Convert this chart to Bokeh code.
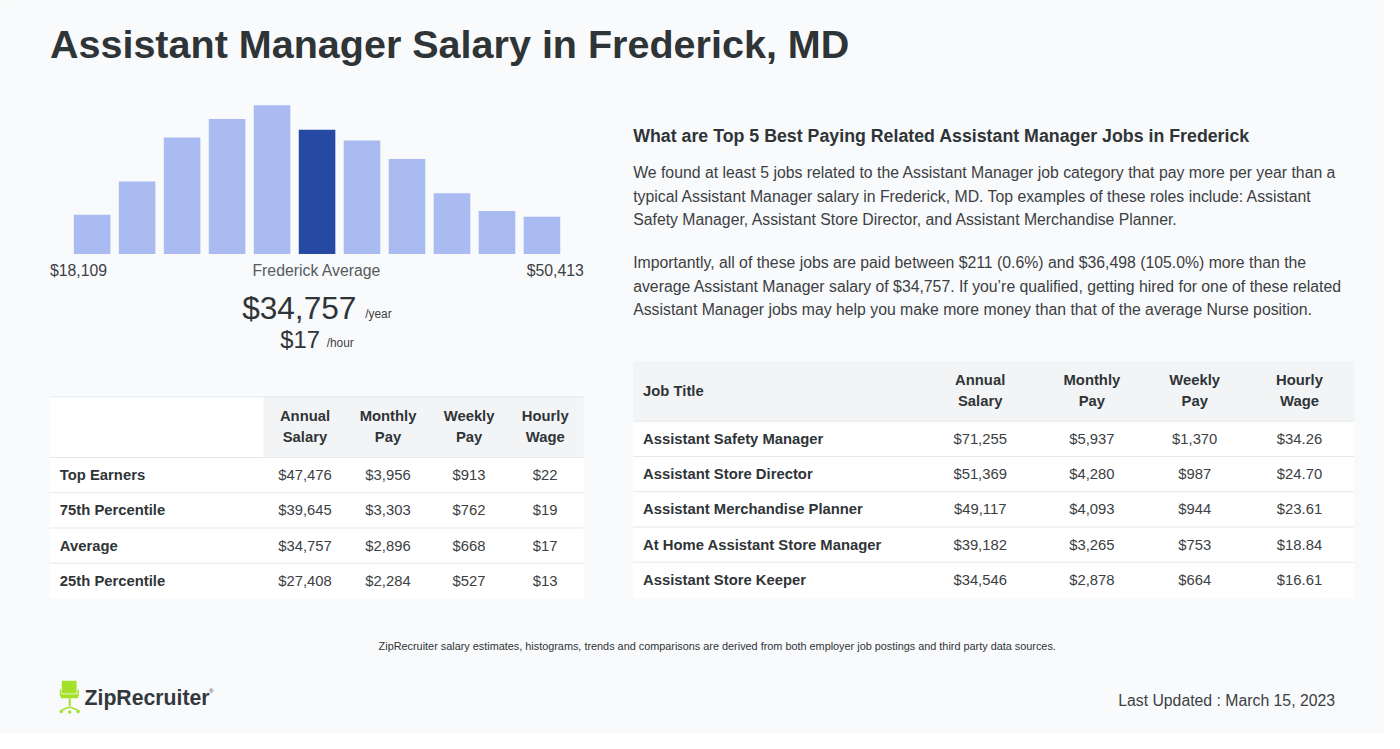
from bokeh.plotting import figure
from bokeh.models import Range1d
from bokeh.core.properties import value
from bokeh.embed import file_html
from bokeh.resources import INLINE

# ---------------- data ----------------
title = "Assistant Manager Salary in Frederick, MD"
hist_counts = [40, 74, 119, 138, 152, 127, 116, 97, 62, 44, 38]
avg_bin = 5
range_low = "$18,109"
range_high = "$50,413"
avg_label = "Frederick Average"
avg_annual = "$34,757"
avg_hourly = "$17"

pct_labels = ["Top Earners", "75th Percentile", "Average", "25th Percentile"]
pct_annual = ["$47,476", "$39,645", "$34,757", "$27,408"]
pct_monthly = ["$3,956", "$3,303", "$2,896", "$2,284"]
pct_weekly = ["$913", "$762", "$668", "$527"]
pct_hourly = ["$22", "$19", "$17", "$13"]
col_heads_1 = ["Annual", "Monthly", "Weekly", "Hourly"]
col_heads_2 = ["Salary", "Pay", "Pay", "Wage"]

jobs = ["Assistant Safety Manager", "Assistant Store Director", "Assistant Merchandise Planner",
        "At Home Assistant Store Manager", "Assistant Store Keeper"]
job_annual = ["$71,255", "$51,369", "$49,117", "$39,182", "$34,546"]
job_monthly = ["$5,937", "$4,280", "$4,093", "$3,265", "$2,878"]
job_weekly = ["$1,370", "$987", "$944", "$753", "$664"]
job_hourly = ["$34.26", "$24.70", "$23.61", "$18.84", "$16.61"]

heading = "What are Top 5 Best Paying Related Assistant Manager Jobs in Frederick"
para1 = ["We found at least 5 jobs related to the Assistant Manager job category that pay more per year than a",
         "typical Assistant Manager salary in Frederick, MD. Top examples of these roles include: Assistant",
         "Safety Manager, Assistant Store Director, and Assistant Merchandise Planner."]
para2 = ["Importantly, all of these jobs are paid between $211 (0.6%) and $36,498 (105.0%) more than the",
         "average Assistant Manager salary of $34,757. If you\u2019re qualified, getting hired for one of these related",
         "Assistant Manager jobs may help you make more money than that of the average Nurse position."]
footnote = "ZipRecruiter salary estimates, histograms, trends and comparisons are derived from both employer job postings and third party data sources."
updated = "Last Updated : March 15, 2023"
brand = "ZipRecruiter"

# ---------------- styles ----------------
FONT = "Liberation Sans"
BG = "#f9fafc"
DARK = "#2f3437"
BODY = "#3c4043"
LINE = "#e6e8eb"
HEAD_BG = "#f3f4f6"
BAR_LIGHT = "#a9bbf0"
BAR_DARK = "#264aa4"
FS = 0.988  # font scale so that the full 1400x749 canvas fits the 1384x733 frame

p = figure(width=1384, height=733, x_range=Range1d(0, 1400), y_range=Range1d(749, 0),
           x_axis_type=None, y_axis_type=None, toolbar_location=None, output_backend="svg",
           min_border=0, background_fill_color=BG, border_fill_color=BG, outline_line_color=None)
p.grid.visible = False


def txt(x, y, s, size, color=BODY, style="normal", align="left", baseline="middle"):
    if not isinstance(s, list):
        s = [s]
    if not isinstance(x, list):
        x = [x] * len(s)
    if not isinstance(y, list):
        y = [y] * len(s)
    p.text(x=x, y=y, text=s, text_font=value(FONT), text_font_size=f"{size * FS:.2f}px",
           text_color=color, text_font_style=style, text_align=align, text_baseline=baseline)


# title
txt(50, 44, title, 40, DARK, "bold")

# ---------------- histogram ----------------
p.extra_x_ranges = {"bins": Range1d(-2.037, 28.73)}
p.extra_y_ranges = {"count": Range1d(-490, 259)}
bar_colors = [BAR_DARK if i == avg_bin else BAR_LIGHT for i in range(len(hist_counts))]
p.vbar(x=list(range(len(hist_counts))), top=hist_counts, bottom=0, width=0.813,
       fill_color=bar_colors, line_color=None, x_range_name="bins", y_range_name="count")

txt(50, 276, range_low, 16, BODY)
txt(320, 276, avg_label, 16, "#555a5e", align="center")
txt(590, 276, range_high, 16, BODY, align="right")
txt(360, 314, avg_annual, 32, DARK, align="right")
txt(369, 320, "/year", 12, BODY)
txt(323, 347, avg_hourly, 24, DARK, align="right")
txt(330, 350, "/hour", 12, BODY)

# ---------------- left table ----------------
lt_x0, lt_x1, lt_split = 50, 590, 266
lt_head_top, lt_head_bot, lt_row_h = 405, 467, 36
n_l = len(pct_labels)
p.quad(left=[lt_x0], right=[lt_x1], top=[lt_head_top], bottom=[lt_head_bot + n_l * lt_row_h],
       fill_color="white", line_color=None)
p.quad(left=[lt_split], right=[lt_x1], top=[lt_head_top], bottom=[lt_head_bot],
       fill_color=HEAD_BG, line_color=None)
lt_lines = [lt_head_top] + [lt_head_bot + i * lt_row_h for i in range(n_l)]
p.segment(x0=[lt_x0] * len(lt_lines), x1=[lt_x1] * len(lt_lines), y0=lt_lines, y1=lt_lines,
          line_color=LINE, line_width=1)
lt_cols = [308, 392, 474, 551]
txt(lt_cols, 425, col_heads_1, 15, DARK, "bold", "center")
txt(lt_cols, 446, col_heads_2, 15, DARK, "bold", "center")
rows_y = [lt_head_bot + (i + 0.5) * lt_row_h for i in range(n_l)]
txt(60, rows_y, pct_labels, 15, DARK, "bold")
for cx, col in zip(lt_cols, [pct_annual, pct_monthly, pct_weekly, pct_hourly]):
    txt(cx, rows_y, col, 15, BODY, align="center")

# ---------------- right text ----------------
txt(640, 138, heading, 18, DARK, "bold")
txt(640, [176, 200, 224], para1, 16, BODY)
txt(640, [268, 292, 316], para2, 16, BODY)

# ---------------- right table ----------------
rt_x0, rt_x1 = 640, 1369
rt_head_top, rt_head_bot, rt_row_h = 368, 430, 36
n_r = len(jobs)
p.quad(left=[rt_x0], right=[rt_x1], top=[rt_head_top], bottom=[rt_head_bot + n_r * rt_row_h],
       fill_color="white", line_color=None)
p.quad(left=[rt_x0], right=[rt_x1], top=[rt_head_top], bottom=[rt_head_bot],
       fill_color=HEAD_BG, line_color=None)
rt_lines = [rt_head_bot + i * rt_row_h for i in range(n_r)]
p.segment(x0=[rt_x0] * len(rt_lines), x1=[rt_x1] * len(rt_lines), y0=rt_lines, y1=rt_lines,
          line_color=LINE, line_width=1)
rt_cols = [991, 1104, 1208, 1314]
txt(650, 399, "Job Title", 15, DARK, "bold")
txt(rt_cols, 388, col_heads_1, 15, DARK, "bold", "center")
txt(rt_cols, 409, col_heads_2, 15, DARK, "bold", "center")
rrows_y = [rt_head_bot + (i + 0.5) * rt_row_h for i in range(n_r)]
txt(650, rrows_y, jobs, 15, DARK, "bold")
for cx, col in zip(rt_cols, [job_annual, job_monthly, job_weekly, job_hourly]):
    txt(cx, rrows_y, col, 15, BODY, align="center")

# ---------------- footer ----------------
txt(725, 660, footnote, 11, DARK, align="center")
txt(1350, 715, updated, 16, BODY, align="right")

# logo (chair icon)
GREEN = "#a4e22a"
p.quad(left=[62], right=[77], top=[695], bottom=[708], fill_color=GREEN, line_color=None)
p.quad(left=[61], right=[78.5], top=[709], bottom=[713], fill_color=GREEN, line_color=None)
p.segment(x0=[60.8, 78.5], x1=[60.8, 78.5], y0=[704, 704], y1=[711, 711], line_color=GREEN, line_width=1.5)
p.segment(x0=[70], x1=[70], y0=[713], y1=[721], line_color=GREEN, line_width=2)
p.segment(x0=[62, 70], x1=[70, 78], y0=[725, 722], y1=[722, 725], line_color=GREEN, line_width=1.5)
p.scatter(x=[61.5, 70, 78.5], y=[726.5, 727, 726.5], size=3.5, fill_color=GREEN, line_color=None)
txt(85, 713, brand, 21.5, "#33383c", "bold")
txt(211, 706, "\u00ae", 6, "#33383c")

open("out.html", "w").write(file_html(p, INLINE))
